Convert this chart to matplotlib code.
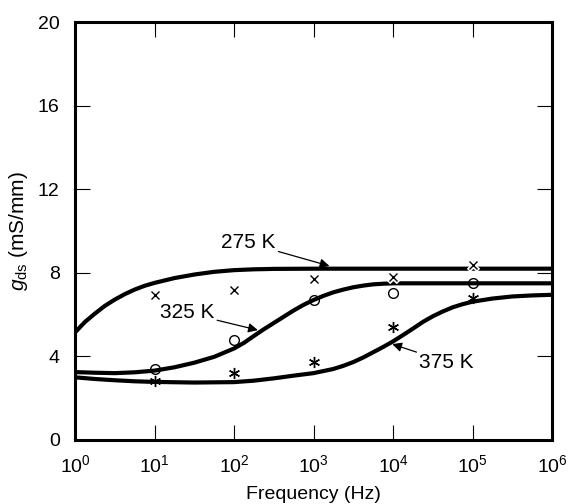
import numpy as np
import matplotlib
matplotlib.use("Agg")
import matplotlib.pyplot as plt

plt.rcParams['font.family'] = ['Liberation Sans', 'DejaVu Sans']
plt.rcParams['mathtext.fontset'] = 'custom'
plt.rcParams['mathtext.rm'] = 'Liberation Sans'
plt.rcParams['mathtext.it'] = 'Liberation Sans:italic'
plt.rcParams['mathtext.default'] = 'regular'

# model curves (log10 of frequency, gds in mS/mm)
exp_275 = [0, 0.125, 0.25, 0.375, 0.5, 0.625, 0.75, 0.875, 1.0, 1.25, 1.5, 1.75,
           2.0, 2.25, 2.5, 3.0, 4.0, 5.0, 6.0]
g_275 = [5.15, 5.65, 6.05, 6.42, 6.72, 6.98, 7.2, 7.38, 7.52, 7.75, 7.92, 8.05,
         8.13, 8.17, 8.19, 8.2, 8.2, 8.2, 8.2]

exp_325 = [0, 0.25, 0.5, 0.75, 1.0, 1.25, 1.5, 1.75, 2.0, 2.125, 2.25, 2.375, 2.5,
           2.625, 2.75, 2.875, 3.0, 3.125, 3.25, 3.375, 3.5, 3.625, 3.75, 3.875,
           4.0, 5.0, 6.0]
g_325 = [3.25, 3.22, 3.2, 3.24, 3.32, 3.48, 3.7, 3.98, 4.38, 4.65, 4.98, 5.3, 5.6,
         5.9, 6.2, 6.47, 6.7, 6.9, 7.07, 7.2, 7.31, 7.39, 7.45, 7.48,
         7.5, 7.5, 7.5]

exp_375 = [0, 0.25, 0.5, 0.75, 1.0, 1.5, 2.0, 2.25, 2.5, 2.75, 3.0, 3.25, 3.375,
           3.5, 3.625, 3.75, 3.875, 4.0, 4.125, 4.25, 4.375, 4.5, 4.625, 4.75,
           4.875, 5.0, 5.25, 5.5, 5.75, 6.0]
g_375 = [3.0, 2.92, 2.86, 2.81, 2.78, 2.75, 2.77, 2.84, 2.95, 3.08, 3.2, 3.4, 3.55,
         3.73, 3.95, 4.2, 4.45, 4.72, 5.02, 5.33, 5.65, 5.92, 6.15, 6.35,
         6.5, 6.62, 6.77, 6.87, 6.92, 6.95]

# measured points
f_meas = [1e1, 1e2, 1e3, 1e4, 1e5]
m_275 = [6.95, 7.18, 7.72, 7.78, 8.38]
m_325 = [3.42, 4.8, 6.72, 7.03, 7.52]
m_375 = [2.82, 3.2, 3.72, 5.43, 6.78]

fig = plt.figure(figsize=(5.74, 5.04), dpi=100)
ax = fig.add_axes([0.1307, 0.127, 0.831, 0.829])

for e, g in [(exp_275, g_275), (exp_325, g_325), (exp_375, g_375)]:
    ax.plot(10 ** np.array(e), g, color='black', lw=3.0, solid_capstyle='butt',
            solid_joinstyle='round', zorder=2)

# crosses get a white halo (they cut the 275 K line), others drawn plain
ax.plot(f_meas, m_275, ls='none', marker='x', ms=7, mew=3.5, color='white', zorder=3)
ax.plot(f_meas, m_275, ls='none', marker='x', ms=6, mew=1.0, color='black', zorder=4)
ax.plot(f_meas, m_325, ls='none', marker='o', ms=7, mew=1.0, mfc='none', color='black', zorder=4)
ax.plot(f_meas, m_375, ls='none', marker=(6, 2, 0), ms=8, mew=1.0, color='black', zorder=4)

arrow = dict(arrowstyle='-|>', color='black', lw=0.9, mutation_scale=14, shrinkA=0, shrinkB=0)
ax.annotate('275 K', xy=(10 ** 3.2, 8.33), xytext=(10 ** 2.18, 9.43), fontsize=15,
            ha='center', va='center', arrowprops=arrow, zorder=5)
ax.annotate('325 K', xy=(10 ** 2.3, 5.26), xytext=(10 ** 1.41, 6.08), fontsize=15,
            ha='center', va='center', arrowprops=arrow, zorder=5)
ax.annotate('375 K', xy=(10 ** 3.99, 4.59), xytext=(10 ** 4.33, 3.73), fontsize=15,
            ha='left', va='center', arrowprops=arrow, zorder=5)

ax.set_xscale('log')
ax.set_xlim(1, 1e6)
ax.set_ylim(0, 20)
ax.set_xticks([10.0 ** k for k in range(7)])
ax.set_xticklabels([r'$10^{%d}$' % k for k in range(7)])
ax.xaxis.set_minor_locator(matplotlib.ticker.NullLocator())
ax.set_yticks([0, 4, 8, 12, 16, 20])

ax.tick_params(direction='in', length=11, width=0.8, top=True, right=True, labelsize=14)
ax.tick_params(axis='x', pad=10)
ax.tick_params(axis='y', pad=11)
for s in ax.spines.values():
    s.set_linewidth(2.2)

ax.set_xlabel('Frequency (Hz)', fontsize=14, labelpad=7)
ax.set_ylabel(r'$\mathit{g}_{\mathrm{ds}}$ (mS/mm)', fontsize=15, labelpad=6)

fig.savefig('out.png', dpi=100)
